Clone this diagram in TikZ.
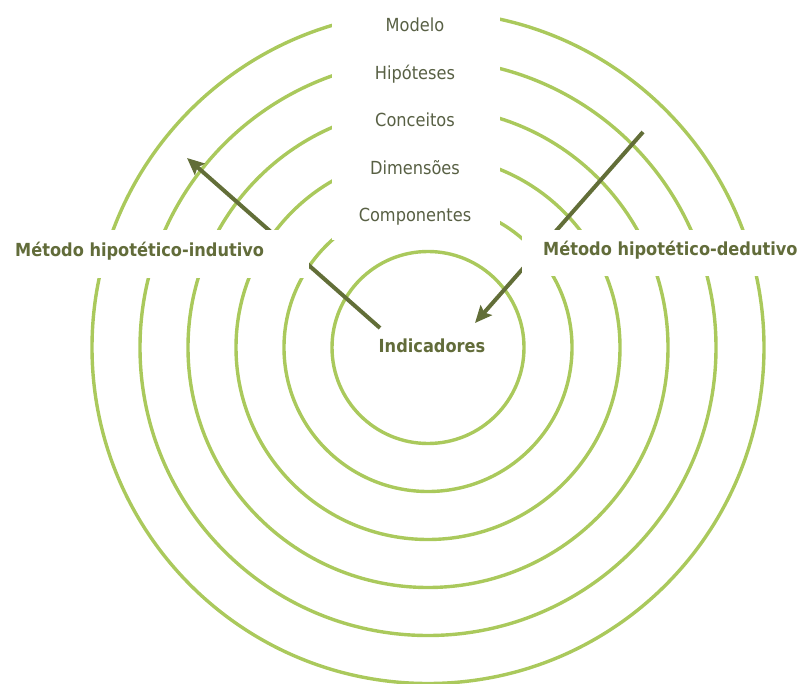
\documentclass[tikz,border=0pt]{standalone}
\usepackage{fontspec}
\setmainfont{DejaVu Sans}[FakeStretch=0.9]
\usetikzlibrary{arrows.meta}
\definecolor{ring}{RGB}{170,201,92}
\definecolor{arrowc}{RGB}{98,110,56}
\definecolor{labc}{RGB}{88,96,68}
\definecolor{boldc}{RGB}{98,108,58}
\begin{document}
\begin{tikzpicture}[x=1pt,y=-1pt,
  ringline/.style={draw=ring,line width=3.4pt},
  arrowline/.style={draw=arrowc,line width=4pt,-{Stealth[length=17pt,width=15pt,inset=3pt]}},
  mask/.style={fill=white,draw=none},
  lab/.style={text=labc,font=\fontsize{18}{20}\selectfont,anchor=base,inner sep=0pt},
  blab/.style={text=boldc,font=\fontsize{18}{20}\selectfont\bfseries,anchor=base west,inner sep=0pt}]
\useasboundingbox (0,0) rectangle (805,684);
\coordinate (c) at (428,347.5);
\foreach \r in {96,144,192,240,288,336} \draw[ringline] (c) circle[radius=\r pt];
% arrows
\coordinate (ls) at (380,328);
\coordinate (lt) at (187,158);
\coordinate (rs) at (643,132);
\coordinate (rt) at (475,323);
\draw[arrowline] (ls) -- (lt);
\draw[arrowline] (rs) -- (rt);
% white label backgrounds
\fill[mask] (-2,230) rectangle (309,278);
\fill[mask] (522,230) rectangle (807,276);
\fill[mask] (332,-2) rectangle (500,240);
% labels
\node[lab] (modelo) at (415,32) {Modelo};
\node[lab] (hip) at (415,79.5) {Hipóteses};
\node[lab] (conc) at (415,127) {Conceitos};
\node[lab] (dim) at (415,174.5) {Dimensões};
\node[lab] (comp) at (415,222) {Componentes};
\node[blab] (ind) at (15,257) {Método hipotético-indutivo};
\node[blab] (ded) at (543,256) {Método hipotético-dedutivo};
\node[lab,text=boldc,font=\fontsize{18}{20}\selectfont\bfseries] (indic) at (432,352) {Indicadores};
\end{tikzpicture}
\end{document}
